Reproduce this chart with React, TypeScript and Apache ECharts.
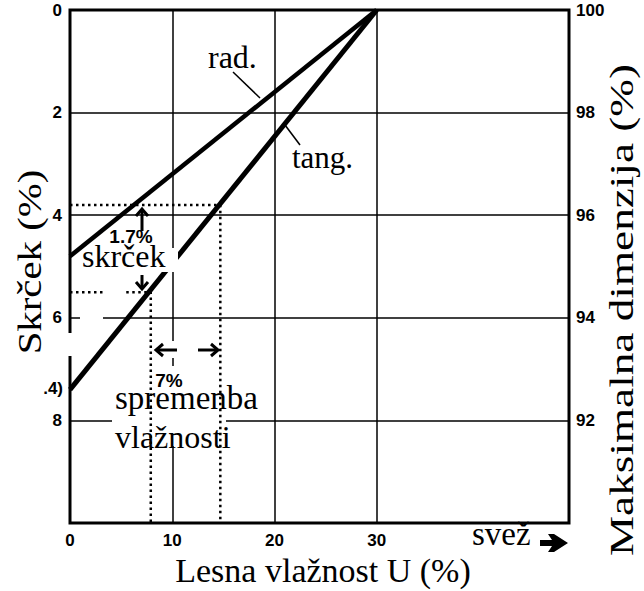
import React, { useEffect, useRef } from 'react';
import * as echarts from 'echarts';

// ---- data ----
const xTickLabels = [0, 10, 20, 30];
const leftTickLabels = [0, 2, 4, 6, 8];
const rightTickLabels = [100, 98, 96, 94, 92];
const moisture = [0, 30];
const radialShrink = [4.8, 0];
const tangentialShrink = [7.4, 0];
const gridLinesX = [10, 20, 30];
const gridLinesY = [2, 4, 6, 8];
const shrinkLevels = [3.8, 5.5];
const moistureLevels = [14.7, 7.9];
const lowerDotGap = [3.2, 5.5];

const serif = '"Liberation Serif", "Times New Roman", serif';
const sans = '"Liberation Sans", Arial, sans-serif';

const txt = (text: string, x: number, y: number, font: string, extra: any = {}, align = 'left') => ({
  type: 'text',
  x,
  y,
  z: 20,
  silent: true,
  style: { text, font, fill: '#000', align, verticalAlign: 'middle' },
  ...extra,
});

const white = (x: number, y: number, w: number, h: number) => ({
  type: 'rect',
  z: 4,
  silent: true,
  shape: { x, y, width: w, height: h },
  style: { fill: '#fff' },
});

const seg = (x1: number, y1: number, x2: number, y2: number, w = 3) => ({
  type: 'line',
  z: 20,
  silent: true,
  shape: { x1, y1, x2, y2 },
  style: { stroke: '#000', lineWidth: w },
});

const head = (pts: number[][]) => ({
  type: 'polyline',
  z: 20,
  silent: true,
  shape: { points: pts },
  style: { stroke: '#000', lineWidth: 3, fill: 'none', lineJoin: 'miter' },
});

export default function App() {
  const ref = useRef<HTMLDivElement>(null);
  useEffect(() => {
    const chart = echarts.init(ref.current!, null, { renderer: 'svg' });
    const dotted = { color: '#000', width: 2.5, type: [2.5, 3.5] as any, cap: 'butt' };
    const labelStyle = { color: '#000', fontFamily: sans, fontWeight: 'bold', fontSize: 17 };
    const option: any = {
      animation: false,
      backgroundColor: '#fff',
      grid: {
        left: 70,
        right: 75,
        top: 10,
        bottom: 68,
        show: true,
        borderColor: '#000',
        borderWidth: 3,
        backgroundColor: 'transparent',
      },
      xAxis: {
        type: 'value',
        min: 0,
        max: 48.8,
        interval: 10,
        axisLine: { show: false },
        axisTick: { show: false },
        splitLine: { show: false },
        axisLabel: {
          margin: 9,
          ...labelStyle,
          formatter: (v: number) => (xTickLabels.includes(v) ? String(v) : ''),
        },
      },
      yAxis: [
        {
          type: 'value',
          min: 0,
          max: 10,
          interval: 2,
          inverse: true,
          position: 'left',
          axisLine: { show: false },
          axisTick: { show: false },
          splitLine: { show: false },
          axisLabel: {
            margin: 8,
            ...labelStyle,
            formatter: (v: number) => (leftTickLabels.includes(v) ? String(v) : ''),
          },
        },
        {
          type: 'value',
          min: 90,
          max: 100,
          interval: 2,
          position: 'right',
          axisLine: { show: false },
          axisTick: { show: false },
          splitLine: { show: false },
          axisLabel: {
            margin: 7,
            ...labelStyle,
            formatter: (v: number) => (rightTickLabels.includes(v) ? String(v) : ''),
          },
        },
      ],
      series: [
        {
          type: 'line',
          name: 'rad.',
          z: 3,
          symbol: 'none',
          data: moisture.map((x, i) => [x, radialShrink[i]]),
          lineStyle: { color: '#000', width: 4.5 },
          markLine: {
            z: 1,
            silent: true,
            symbol: 'none',
            label: { show: false },
            lineStyle: { color: '#000', width: 1.5, type: 'solid' },
            emphasis: { disabled: true },
            data: [
              ...gridLinesX.map((v) => ({ xAxis: v })),
              ...gridLinesY.map((v) => ({ yAxis: v })),
            ],
          },
        },
        {
          type: 'line',
          name: 'tang.',
          z: 3,
          symbol: 'none',
          data: moisture.map((x, i) => [x, tangentialShrink[i]]),
          lineStyle: { color: '#000', width: 5 },
        },
        {
          type: 'line',
          z: 5,
          symbol: 'none',
          data: [
            [0, shrinkLevels[0]],
            [moistureLevels[0], shrinkLevels[0]],
            [moistureLevels[0], 10],
          ],
          lineStyle: dotted,
        },
        {
          type: 'line',
          z: 5,
          symbol: 'none',
          data: [
            [0, shrinkLevels[1]],
            [lowerDotGap[0], shrinkLevels[1]],
          ],
          lineStyle: dotted,
        },
        {
          type: 'line',
          z: 5,
          symbol: 'none',
          data: [
            [lowerDotGap[1], shrinkLevels[1]],
            [moistureLevels[1], shrinkLevels[1]],
            [moistureLevels[1], 10],
          ],
          lineStyle: dotted,
        },
      ],
      graphic: [
        // white erasures seen in the reference
        white(84, 248, 94, 24),
        white(112, 366, 114, 80),
        white(153, 341, 69, 17),
        white(80, 313, 23, 8),
        white(65, 333, 11, 23),
        // leader lines
        seg(233, 72, 260, 98, 1.5),
        seg(285, 125, 300, 145, 1.5),
        // arrows
        seg(142, 231, 142, 210),
        head([[136, 216], [142, 209], [148, 216]]),
        seg(142, 275, 142, 288),
        head([[136, 282], [142, 289], [148, 282]]),
        seg(177, 350, 157, 350),
        head([[163, 344], [156, 350], [163, 356]]),
        seg(198, 350, 217, 350),
        head([[211, 344], [218, 350], [211, 356]]),
        {
          type: 'polygon',
          z: 20,
          silent: true,
          shape: {
            points: [[540, 540], [552, 540], [548, 534], [554, 534], [568, 543], [554, 552], [548, 552], [552, 546], [540, 546]],
          },
          style: { fill: '#000' },
        },
        // texts
        txt('rad.', 208, 57, `32px ${serif}`),
        txt('tang.', 292, 157, `31px ${serif}`),
        txt('skrček', 82, 256, `32px ${serif}`),
        txt('1.7%', 131, 236, `bold 19px ${sans}`, {}, 'center'),
        txt('7%', 169, 380, `bold 19px ${sans}`, {}, 'center'),
        txt('spremenba', 115, 398, `33px ${serif}`),
        txt('vlažnosti', 115, 437, `32px ${serif}`),
        txt('svež', 472, 534, `33px ${serif}`),
        txt('.4)', 63, 388, `bold 17px ${sans}`, {}, 'right'),
        txt('Lesna vlažnost U (%)', 323, 570, `34px ${serif}`, {}, 'center'),
        txt('Skrček (%)', 30, 262, `34px ${serif}`, { rotation: Math.PI / 2, scaleX: 1.2 }, 'center'),
        txt('Maksimalna dimenzija (%)', 622, 310, `34px ${serif}`, { rotation: Math.PI / 2, scaleX: 1.33 }, 'center'),
      ],
    };
    chart.setOption(option);
    return () => chart.dispose();
  }, []);
  return <div ref={ref} style={{ position: 'absolute', left: 0, top: 0, width: 644, height: 591 }} />;
}
